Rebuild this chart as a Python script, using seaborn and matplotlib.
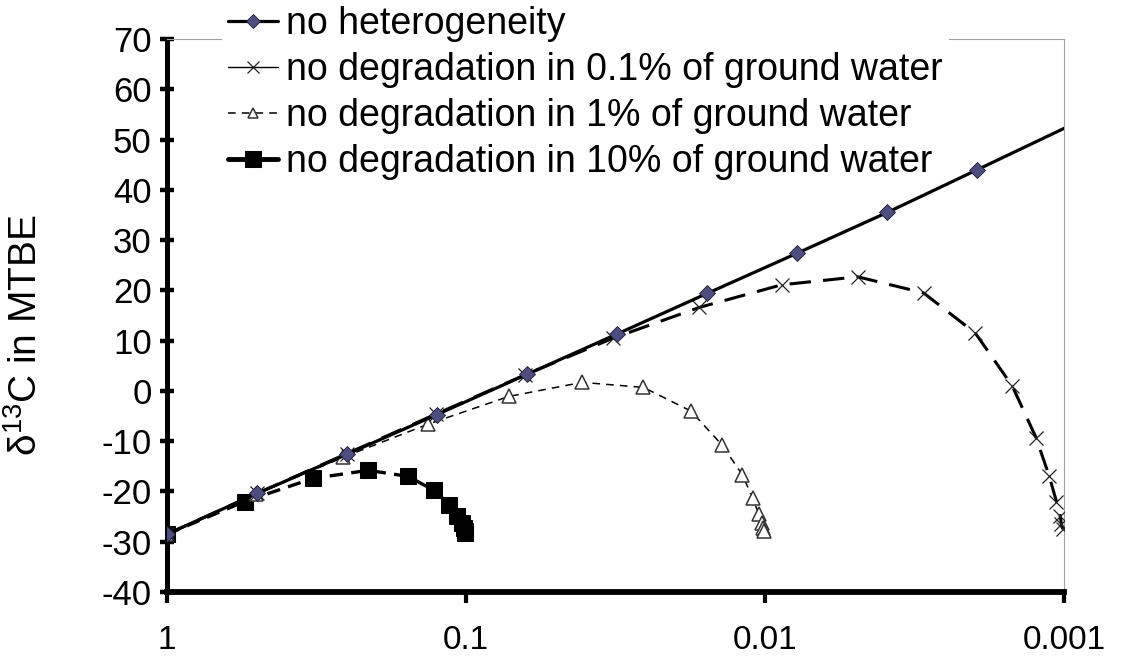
import matplotlib
matplotlib.use("Agg")
import matplotlib.pyplot as plt
import seaborn as sns

# Remaining MTBE fraction (C/C0) and delta-13C values for each scenario
frac_none = [1, 0.5, 0.25, 0.125, 0.0625, 0.0313, 0.0156, 0.0078, 0.0039, 0.00195, 0.000977]
d13c_none = [-28.5, -20.4, -12.6, -4.7, 3.3, 11.3, 19.4, 27.4, 35.5, 44.0, 52.5]

frac_01 = [1, 0.5005, 0.2508, 0.1259, 0.0634, 0.0322, 0.0166, 0.0088, 0.0049,
           0.00295, 0.00198, 0.00149, 0.00124, 0.00112, 0.00106, 0.00103, 0.00102, 0.00101]
d13c_01 = [-28.5, -20.4, -12.5, -4.6, 3.2, 10.5, 16.6, 21.1, 22.7,
           19.5, 11.5, 1.0, -9.3, -17.0, -22.0, -24.8, -26.5, -27.5]

frac_1 = [1, 0.505, 0.2575, 0.1338, 0.0719, 0.0409, 0.0255, 0.0177, 0.0139,
          0.0119, 0.0110, 0.0105, 0.01024, 0.01012, 0.01006]
d13c_1 = [-28.5, -20.6, -13.2, -6.6, -1.1, 1.7, 0.7, -4.0, -10.8,
          -16.7, -21.3, -24.4, -26.2, -27.3, -27.9]

frac_10 = [1, 0.55, 0.325, 0.2125, 0.156, 0.128, 0.114, 0.107, 0.1035, 0.1018, 0.1009, 0.1004]
d13c_10 = [-28.5, -22.0, -17.4, -15.8, -17.0, -19.8, -22.6, -24.8, -26.3, -27.2, -27.8, -28.2]

labels = ["no heterogeneity",
          "no degradation in 0.1% of ground water",
          "no degradation in 1% of ground water",
          "no degradation in 10% of ground water"]

x_ticks = [1, 0.1, 0.01, 0.001]
x_ticklabels = ["1", "0.1", "0.01", "0.001"]
y_ticks = list(range(-40, 71, 10))

sns.set_theme(style="white")
plt.rcParams["font.family"] = ["Liberation Sans", "DejaVu Sans"]
plt.rcParams["mathtext.fontset"] = "custom"
plt.rcParams["mathtext.rm"] = "Liberation Sans"
plt.rcParams["mathtext.default"] = "regular"
for key in ("text.color", "axes.labelcolor", "xtick.color", "ytick.color"):
    plt.rcParams[key] = "black"

fig = plt.figure(figsize=(11.34, 6.65), dpi=100)
ax = fig.add_axes([167 / 1134, 1 - 592 / 665, (1064 - 167) / 1134, (592 - 39) / 665])

common = dict(ax=ax, estimator=None, sort=False)

sns.lineplot(x=frac_10, y=d13c_10, color="black", lw=2.4, dashes=False,
             linestyle=(0, (4, 2.5)), marker="s", markersize=12, mfc="black",
             mec="black", label=labels[3], zorder=3, **common)
sns.lineplot(x=frac_1, y=d13c_1, color="black", lw=1.1, dashes=False,
             linestyle=(0, (5, 4)), marker="^", markersize=10, mfc="white",
             mec="#333333", mew=1.1, label=labels[2], zorder=4, **common)
sns.lineplot(x=frac_01, y=d13c_01, color="black", lw=2.2, dashes=False,
             linestyle=(0, (7, 4)), marker="x", markersize=10, mec="#222222",
             mew=0.9, label=labels[1], zorder=5, **common)
sns.lineplot(x=frac_none, y=d13c_none, color="black", lw=2.3, dashes=False,
             marker="D", markersize=8, mfc="#4d4d80", mec="#1a1a33", mew=0.6,
             markevery=list(range(len(frac_none) - 1)), label=labels[0],
             zorder=6, **common)

ax.set_xscale("log")
ax.set_xlim(1, 0.001)
ax.set_ylim(-40, 70)
ax.set_xticks(x_ticks)
ax.set_xticklabels(x_ticklabels)
ax.minorticks_off()
ax.set_yticks(y_ticks)
ax.set_yticklabels([str(v) for v in y_ticks])

for side in ("top", "right"):
    ax.spines[side].set_color("#a0a0a0")
    ax.spines[side].set_linewidth(0.8)
ax.spines["left"].set_color("black")
ax.spines["left"].set_linewidth(3.6)
ax.spines["bottom"].set_color("black")
ax.spines["bottom"].set_linewidth(4.2)

ax.tick_params(axis="y", direction="inout", length=10, width=3.2, color="black",
               labelsize=25, pad=6, left=True)
ax.tick_params(axis="x", direction="out", length=8, width=3.0, color="black",
               labelsize=24, pad=16, bottom=True)

ax.set_xlabel("")
ax.set_ylabel("δ$^{13}$C in MTBE", fontsize=28)
ax.yaxis.set_label_coords(-0.136, 0.465)

handles, labs = ax.get_legend_handles_labels()
order = [labs.index(l) for l in labels]
leg = ax.legend([handles[i] for i in order], [labs[i] for i in order],
                loc="upper left", bbox_to_anchor=(222 / 1134, 1.0),
                bbox_transform=fig.transFigure, fontsize=27, frameon=True,
                facecolor="white", edgecolor="none", framealpha=1, fancybox=False,
                borderpad=0.15, borderaxespad=0, handlelength=1.35,
                handletextpad=0.22, labelspacing=0.27)

# Legend keys: thin solid line for the 0.1% scenario, solid thick line for 10%
leg_lines = leg.get_lines()
leg_lines[1].set_linestyle("-")
leg_lines[1].set_linewidth(1.0)
leg_lines[3].set_linestyle("-")
leg_lines[3].set_linewidth(3.5)
for ln, ms in zip(leg_lines, (7, 8, 7, 11)):
    ln.set_markersize(ms)

fig.savefig("out.png", dpi=100)
